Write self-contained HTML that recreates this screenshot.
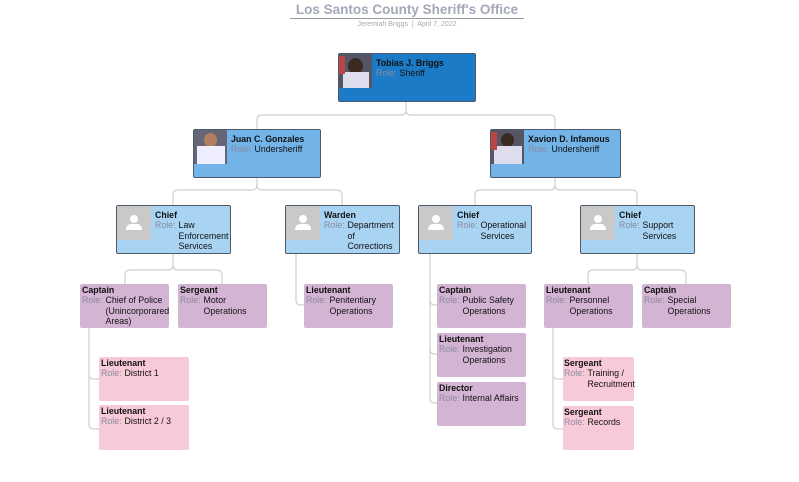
<!DOCTYPE html>
<html><head><meta charset="utf-8"><style>
body{margin:0;width:799px;height:482px;background:#fff;position:relative;overflow:hidden;font-family:"Liberation Sans",sans-serif}
.b{position:absolute;box-sizing:border-box;font-size:8.8px;line-height:10.4px;color:#111}
.n{font-weight:bold}
.r{display:flex}
.r span{color:#8a8aa0;margin-right:3px;white-space:nowrap}
.bl{border:1px solid #4a5a6a;border-radius:2px}
.p{position:absolute;left:0;top:0;height:34px}
.ph{background:#c9c9c9}
.t{padding:4px 3px}
.pu{background:#d3b4d3;border-radius:2px}
.pk{background:#f8c9d7;border-radius:2px}
</style></head><body>
<div style="position:absolute;left:290px;top:2px;width:234px;text-align:center;font-size:13.5px;font-weight:bold;color:#a4a8b8">Los Santos County Sheriff's Office</div>
<div style="position:absolute;left:290px;top:18px;width:234px;border-top:1px solid #999"></div>
<div style="position:absolute;left:290px;top:21px;width:234px;text-align:center;font-size:7px;color:#aaa">Jeremiah Briggs &nbsp;|&nbsp; April 7, 2022</div>
<svg width="799" height="482" style="position:absolute;left:0;top:0" fill="none" stroke="#cfcfcf" stroke-width="1.2">
<path d="M406 101V110q0 5-5 5H262q-5 0-5 5V129M406 110q0 5 5 5H550q5 0 5 5V129"/>
<path d="M257 177V185q0 5-5 5H178q-5 0-5 5V205M257 185q0 5 5 5H337q5 0 5 5V205"/>
<path d="M555 177V185q0 5-5 5H480q-5 0-5 5V205M555 185q0 5 5 5H632q5 0 5 5V205"/>
<path d="M173 253V265q0 5-5 5H130q-5 0-5 5V284M173 265q0 5 5 5H217q5 0 5 5V284"/>
<path d="M637 253V265q0 5-5 5H593q-5 0-5 5V284M637 265q0 5 5 5H681q5 0 5 5V284"/>
<path d="M296 253V300q0 5 5 5H304"/>
<path d="M430 253V398q0 5 5 5H437M430 300q0 5 5 5H437M430 349q0 5 5 5H437"/>
<path d="M89 328V424q0 5 5 5H99M89 374q0 5 5 5H99"/>
<path d="M553 328V424q0 5 5 5H563M553 374q0 5 5 5H563"/>
</svg>
<div class="b bl" style="left:338px;top:53px;width:138px;height:49px;background:#1b7bc6"><div class="p" style="width:33px;background:#556;"><div style="position:absolute;left:9px;top:4px;width:15px;height:16px;border-radius:50%;background:#3a2a22"></div><div style="position:absolute;left:4px;top:18px;width:26px;height:16px;background:#dde"></div><div style="position:absolute;left:0;top:2px;width:6px;height:18px;background:#b44"></div></div><div class="t" style="margin-left:34px"><div class="n">Tobias J. Briggs</div><div class="r"><span>Role:</span>Sheriff</div></div></div>
<div class="b bl" style="left:193px;top:129px;width:128px;height:49px;background:#72b3e8"><div class="p" style="width:33px;background:#667"><div style="position:absolute;left:10px;top:3px;width:13px;height:14px;border-radius:50%;background:#b08060"></div><div style="position:absolute;left:3px;top:16px;width:28px;height:18px;background:#eef"></div></div><div class="t" style="margin-left:34px"><div class="n">Juan C. Gonzales</div><div class="r"><span>Role:</span>Undersheriff</div></div></div>
<div class="b bl" style="left:490px;top:129px;width:131px;height:49px;background:#72b3e8"><div class="p" style="width:33px;background:#556"><div style="position:absolute;left:10px;top:3px;width:13px;height:14px;border-radius:50%;background:#3a2a22"></div><div style="position:absolute;left:3px;top:16px;width:28px;height:18px;background:#dde"></div><div style="position:absolute;left:0;top:2px;width:6px;height:18px;background:#b44"></div></div><div class="t" style="margin-left:34px"><div class="n">Xavion D. Infamous</div><div class="r"><span>Role:</span>Undersheriff</div></div></div>
<div class="b bl" style="left:116px;top:205px;width:115px;height:49px;background:#a9d3f3"><div class="p ph" style="width:34px"><div style="position:absolute;left:13px;top:9px;width:8px;height:8px;border-radius:50%;background:#fff"></div><div style="position:absolute;left:9px;top:18px;width:16px;height:6px;border-radius:5px 5px 0 0;background:#fff"></div></div><div class="t" style="margin-left:35px"><div class="n">Chief</div><div class="r"><span>Role:</span><div>Law Enforcement Services</div></div></div></div>
<div class="b bl" style="left:285px;top:205px;width:115px;height:49px;background:#a9d3f3"><div class="p ph" style="width:34px"><div style="position:absolute;left:13px;top:9px;width:8px;height:8px;border-radius:50%;background:#fff"></div><div style="position:absolute;left:9px;top:18px;width:16px;height:6px;border-radius:5px 5px 0 0;background:#fff"></div></div><div class="t" style="margin-left:35px"><div class="n">Warden</div><div class="r"><span>Role:</span><div>Department of Corrections</div></div></div></div>
<div class="b bl" style="left:418px;top:205px;width:114px;height:49px;background:#a9d3f3"><div class="p ph" style="width:34px"><div style="position:absolute;left:13px;top:9px;width:8px;height:8px;border-radius:50%;background:#fff"></div><div style="position:absolute;left:9px;top:18px;width:16px;height:6px;border-radius:5px 5px 0 0;background:#fff"></div></div><div class="t" style="margin-left:35px"><div class="n">Chief</div><div class="r"><span>Role:</span><div>Operational Services</div></div></div></div>
<div class="b bl" style="left:580px;top:205px;width:115px;height:49px;background:#a9d3f3"><div class="p ph" style="width:34px"><div style="position:absolute;left:13px;top:9px;width:8px;height:8px;border-radius:50%;background:#fff"></div><div style="position:absolute;left:9px;top:18px;width:16px;height:6px;border-radius:5px 5px 0 0;background:#fff"></div></div><div class="t" style="margin-left:35px"><div class="n">Chief</div><div class="r"><span>Role:</span><div>Support Services</div></div></div></div>
<div class="b pu t" style="left:80px;top:284px;width:89px;height:44px;padding:1px 2px"><div class="n">Captain</div><div class="r"><span>Role:</span><div>Chief of Police (Unincorporared Areas)</div></div></div>
<div class="b pu t" style="left:178px;top:284px;width:89px;height:44px;padding:1px 2px"><div class="n">Sergeant</div><div class="r"><span>Role:</span><div>Motor Operations</div></div></div>
<div class="b pu t" style="left:304px;top:284px;width:89px;height:44px;padding:1px 2px"><div class="n">Lieutenant</div><div class="r"><span>Role:</span><div>Penitentiary Operations</div></div></div>
<div class="b pu t" style="left:437px;top:284px;width:89px;height:44px;padding:1px 2px"><div class="n">Captain</div><div class="r"><span>Role:</span><div>Public Safety Operations</div></div></div>
<div class="b pu t" style="left:437px;top:333px;width:89px;height:44px;padding:1px 2px"><div class="n">Lieutenant</div><div class="r"><span>Role:</span><div>Investigation Operations</div></div></div>
<div class="b pu t" style="left:437px;top:382px;width:89px;height:44px;padding:1px 2px"><div class="n">Director</div><div class="r"><span>Role:</span><div>Internal Affairs</div></div></div>
<div class="b pu t" style="left:544px;top:284px;width:89px;height:44px;padding:1px 2px"><div class="n">Lieutenant</div><div class="r"><span>Role:</span><div>Personnel Operations</div></div></div>
<div class="b pu t" style="left:642px;top:284px;width:89px;height:44px;padding:1px 2px"><div class="n">Captain</div><div class="r"><span>Role:</span><div>Special Operations</div></div></div>
<div class="b pk t" style="left:99px;top:357px;width:90px;height:44px;padding:1px 2px"><div class="n">Lieutenant</div><div class="r"><span>Role:</span><div>District 1</div></div></div>
<div class="b pk t" style="left:99px;top:405px;width:90px;height:45px;padding:1px 2px"><div class="n">Lieutenant</div><div class="r"><span>Role:</span><div>District 2 / 3</div></div></div>
<div class="b pk t" style="left:563px;top:357px;width:71px;height:44px;padding:1px 1px"><div class="n">Sergeant</div><div class="r"><span>Role:</span><div style="white-space:nowrap">Training /<br>Recruitment</div></div></div>
<div class="b pk t" style="left:563px;top:406px;width:71px;height:44px;padding:1px 1px"><div class="n">Sergeant</div><div class="r"><span>Role:</span><div>Records</div></div></div>
</body></html>
